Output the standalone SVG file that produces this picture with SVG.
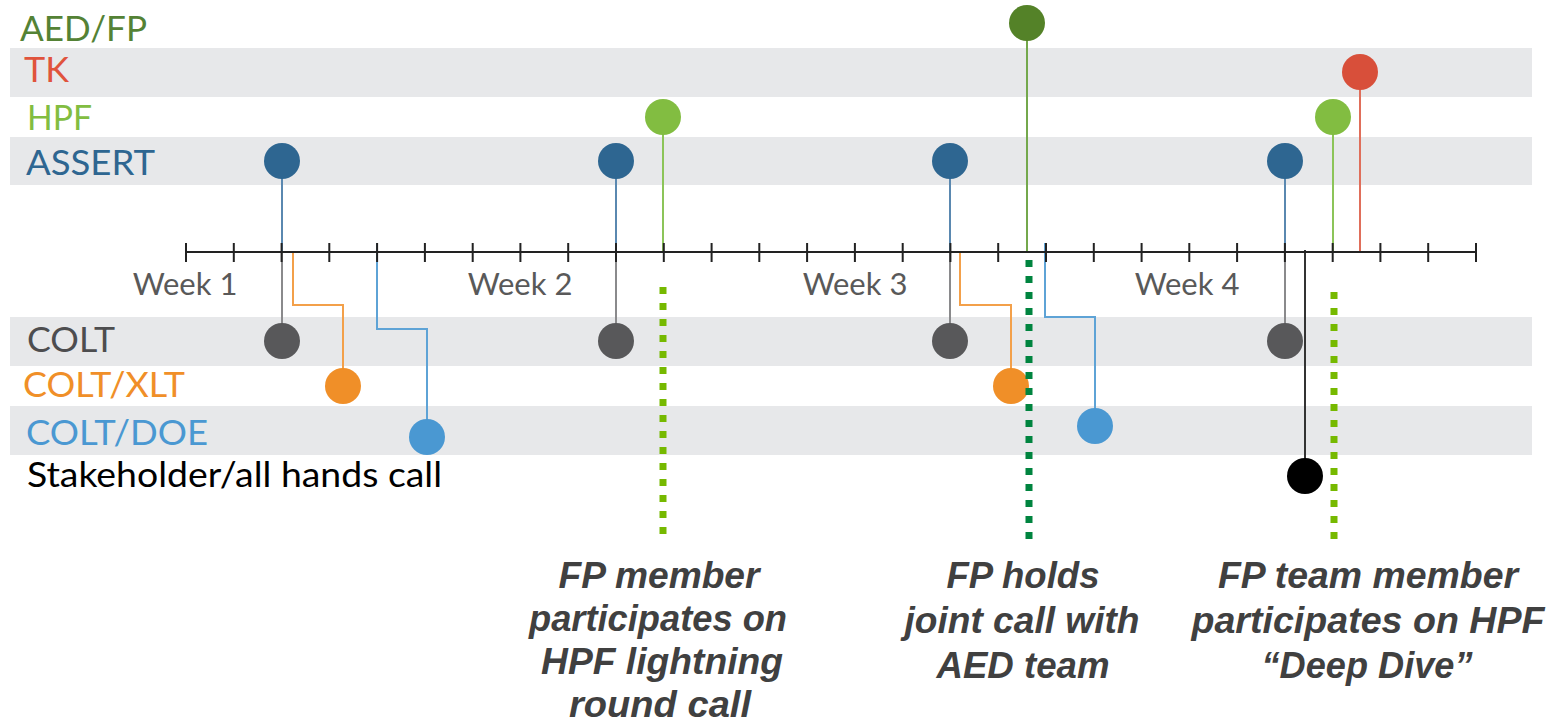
<svg xmlns="http://www.w3.org/2000/svg" width="1555" height="726" viewBox="0 0 1555 726">
<style>
.band{fill:#e7e8ea}
.lbl{font-family:Lato,"Liberation Sans",sans-serif;font-size:34px}
.wk{font-family:Lato,"Liberation Sans",sans-serif;font-size:31px;fill:#595959;text-anchor:middle}
.note{font-family:"Liberation Sans",Arial,sans-serif;font-size:36px;font-weight:bold;font-style:italic;fill:#404040;text-anchor:middle}
.c{fill:none;stroke-width:2}
.tick{stroke:#222;stroke-width:2}
.dotd{stroke:#00843f;stroke-width:7;stroke-dasharray:7 9;fill:none}
.dotl{stroke:#76b900;stroke-width:7;stroke-dasharray:7 9;fill:none}
</style>
<rect width="1555" height="726" fill="#ffffff"/>
<g id="bands">
<rect class="band" x="10" y="48" width="1522" height="49"/>
<rect class="band" x="10" y="137" width="1522" height="48"/>
<rect class="band" x="10" y="317" width="1522" height="49"/>
<rect class="band" x="10" y="406" width="1522" height="49"/>
</g>
<g id="row-labels">
<text class="lbl" x="20" y="41" fill="#548235" textLength="127" lengthAdjust="spacingAndGlyphs">AED/FP</text>
<text class="lbl" x="24" y="82" fill="#e0533c" textLength="45" lengthAdjust="spacingAndGlyphs">TK</text>
<text class="lbl" x="27" y="130" fill="#82bd41" textLength="65" lengthAdjust="spacingAndGlyphs">HPF</text>
<text class="lbl" x="26" y="175" fill="#2e6691" textLength="129" lengthAdjust="spacingAndGlyphs">ASSERT</text>
<text class="lbl" x="27" y="352" fill="#4d4d4f" textLength="88" lengthAdjust="spacingAndGlyphs">COLT</text>
<text class="lbl" x="23" y="397" fill="#f08f28" textLength="162" lengthAdjust="spacingAndGlyphs">COLT/XLT</text>
<text class="lbl" x="26" y="445" fill="#4a98d2" textLength="182" lengthAdjust="spacingAndGlyphs">COLT/DOE</text>
<text class="lbl" x="27" y="487" fill="#000000" textLength="415" lengthAdjust="spacingAndGlyphs">Stakeholder/all hands call</text>
</g>
<g id="connectors">
<path class="c" stroke="#5a88b0" d="M282 161V252M616 161V252M950 161V252M1285 161V252"/>
<path class="c" stroke="#8a8a8c" d="M282 252V341M616 252V341M950 252V341M1285 252V341"/>
<path class="c" stroke="#8cc459" d="M663 117V252M1333 117V252"/>
<path class="c" stroke="#74a84c" d="M1027 23V252"/>
<path class="c" stroke="#e06e5a" d="M1360 72V252"/>
<path class="c" stroke="#f3a04a" d="M293 252V305H343V386M960 252V305H1011V386"/>
<path class="c" stroke="#5ea3d6" d="M377 243V329H427V437M1045 243V317H1095V426"/>
<path class="c" stroke="#333333" d="M1305 250V476"/>
</g>
<g id="axis">
<line class="tick" x1="186" y1="252" x2="1476" y2="252"/>
<path class="tick" d="M186 243V262M233.8 243V262M281.6 243V262M329.3 243V262M377.1 243V262M424.9 243V262M472.7 243V262M520.4 243V262M568.2 243V262M616 243V262M663.8 243V262M711.6 243V262M759.3 243V262M807.1 243V262M854.9 243V262M902.7 243V262M950.4 243V262M998.2 243V262M1046 243V262M1093.8 243V262M1141.6 243V262M1189.3 243V262M1237.1 243V262M1284.9 243V262M1332.7 243V262M1380.4 243V262M1428.2 243V262M1476 243V262"/>
<text class="wk" x="185" y="295">Week 1</text>
<text class="wk" x="520" y="295">Week 2</text>
<text class="wk" x="855" y="295">Week 3</text>
<text class="wk" x="1187" y="295">Week 4</text>
</g>
<g id="aedfp-1"><circle cx="1027" cy="23" r="18" fill="#548228"/></g>
<g id="tk-1"><circle cx="1360" cy="72" r="18" fill="#d84f3a"/></g>
<g id="hpf-1"><circle cx="663" cy="117" r="18" fill="#82bd41"/></g>
<g id="hpf-2"><circle cx="1333" cy="117" r="18" fill="#82bd41"/></g>
<g id="assert-1"><circle cx="282" cy="161" r="18" fill="#2e6691"/></g>
<g id="assert-2"><circle cx="616" cy="161" r="18" fill="#2e6691"/></g>
<g id="assert-3"><circle cx="950" cy="161" r="18" fill="#2e6691"/></g>
<g id="assert-4"><circle cx="1285" cy="161" r="18" fill="#2e6691"/></g>
<g id="colt-1"><circle cx="282" cy="341" r="18" fill="#58585a"/></g>
<g id="colt-2"><circle cx="616" cy="341" r="18" fill="#58585a"/></g>
<g id="colt-3"><circle cx="950" cy="341" r="18" fill="#58585a"/></g>
<g id="colt-4"><circle cx="1285" cy="341" r="18" fill="#58585a"/></g>
<g id="coltxlt-1"><circle cx="343" cy="386" r="18" fill="#f08f28"/></g>
<g id="coltxlt-2"><circle cx="1011" cy="386" r="18" fill="#f08f28"/></g>
<g id="coltdoe-1"><circle cx="427" cy="437" r="18" fill="#4a98d2"/></g>
<g id="coltdoe-2"><circle cx="1095" cy="426" r="18" fill="#4a98d2"/></g>
<g id="stakeholder-1"><circle cx="1305" cy="476" r="18" fill="#000000"/></g>
<g id="event-lines">
<line class="dotl" x1="663" y1="287" x2="663" y2="534"/>
<line class="dotd" x1="1029" y1="260" x2="1029" y2="539"/>
<line class="dotl" x1="1334" y1="292" x2="1334" y2="539"/>
</g>
<g id="note-1">
<text class="note" x="659" y="588" textLength="201" lengthAdjust="spacingAndGlyphs">FP member</text>
<text class="note" x="658" y="631" textLength="258" lengthAdjust="spacingAndGlyphs">participates on</text>
<text class="note" x="662" y="674" textLength="242" lengthAdjust="spacingAndGlyphs">HPF lightning</text>
<text class="note" x="660" y="717" textLength="182" lengthAdjust="spacingAndGlyphs">round call</text>
</g>
<g id="note-2">
<text class="note" x="1023" y="588" textLength="153" lengthAdjust="spacingAndGlyphs">FP holds</text>
<text class="note" x="1022" y="633" textLength="235" lengthAdjust="spacingAndGlyphs">joint call with</text>
<text class="note" x="1023" y="678" textLength="173" lengthAdjust="spacingAndGlyphs">AED team</text>
</g>
<g id="note-3">
<text class="note" x="1368" y="588" textLength="300" lengthAdjust="spacingAndGlyphs">FP team member</text>
<text class="note" x="1368" y="633" textLength="353" lengthAdjust="spacingAndGlyphs">participates on HPF</text>
<text class="note" x="1367" y="678" textLength="211" lengthAdjust="spacingAndGlyphs">“Deep Dive”</text>
</g>
</svg>
